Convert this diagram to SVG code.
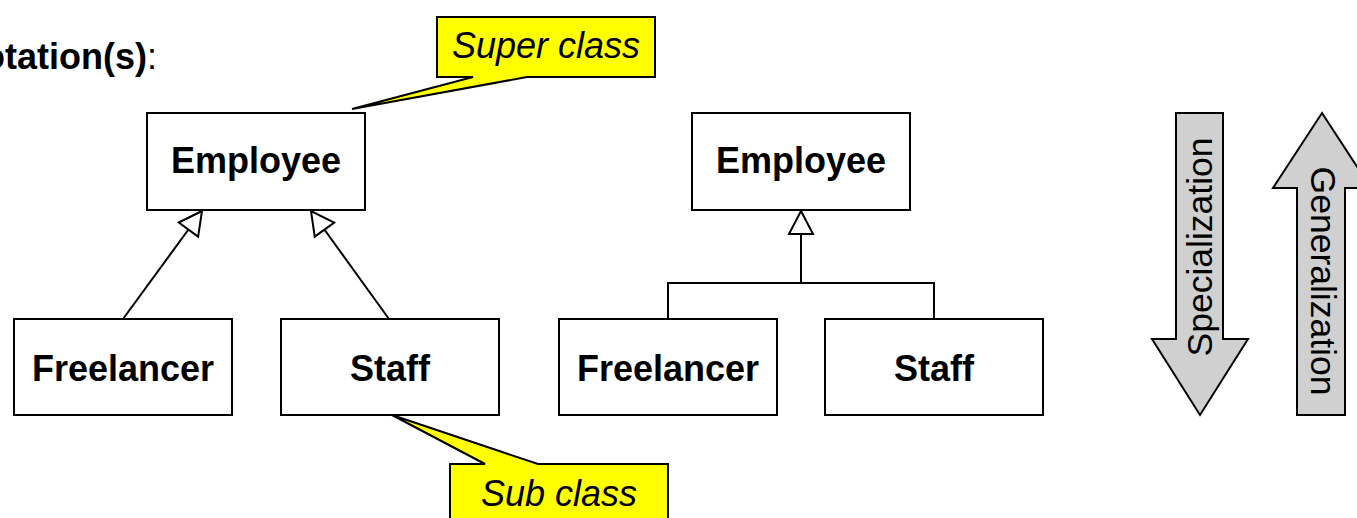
<svg xmlns="http://www.w3.org/2000/svg" width="1357" height="518" viewBox="0 0 1357 518">
<style>
.box{fill:#fff;stroke:#000;stroke-width:2}
.lbl{font-family:"Liberation Sans",Arial,sans-serif;font-weight:bold;font-size:36px;text-anchor:middle;fill:#000}
.note{fill:#ffff00;stroke:#000;stroke-width:2;stroke-linejoin:miter}
.ntxt{font-family:"Liberation Sans",Arial,sans-serif;font-style:italic;font-size:36px;text-anchor:middle;fill:#000}
.conn{fill:none;stroke:#000;stroke-width:2}
.big{fill:#d0d0d0;stroke:#000;stroke-width:2}
.btxt{font-family:"Liberation Sans",Arial,sans-serif;font-size:35.5px;text-anchor:middle;fill:#000}
</style>
<defs>
<marker id="gen" markerUnits="userSpaceOnUse" viewBox="-26 -14 28 28" markerWidth="28" markerHeight="28" refX="0" refY="0" orient="auto" overflow="visible">
<path d="M0,0 L-23,-12 L-23,12 Z" fill="#fff" stroke="#000" stroke-width="2"/>
</marker>
</defs>
<rect width="1357" height="518" fill="#fff"/>
<text x="-43" y="69" font-family="Liberation Sans,Arial,sans-serif" font-size="36px" fill="#000"><tspan font-weight="bold">Notation(s)</tspan>:</text>

<g id="connectors">
<path class="conn" d="M123,319 L202,211" marker-end="url(#gen)"/>
<path class="conn" d="M389,319 L311,211" marker-end="url(#gen)"/>
<path class="conn" d="M668,319 V283 H934 V319"/>
<path class="conn" d="M801,283 V211" marker-end="url(#gen)"/>
</g>

<g id="employee1"><rect class="box" x="147" y="113" width="218" height="97"/><text class="lbl" x="256" y="173">Employee</text></g>
<g id="freelancer1"><rect class="box" x="14" y="319" width="218" height="96"/><text class="lbl" x="123" y="381">Freelancer</text></g>
<g id="staff1"><rect class="box" x="281" y="319" width="218" height="96"/><text class="lbl" x="390" y="381">Staff</text></g>

<g id="employee2"><rect class="box" x="692" y="113" width="218" height="97"/><text class="lbl" x="801" y="173">Employee</text></g>
<g id="freelancer2"><rect class="box" x="559" y="319" width="218" height="96"/><text class="lbl" x="668" y="381">Freelancer</text></g>
<g id="staff2"><rect class="box" x="825" y="319" width="218" height="96"/><text class="lbl" x="934" y="381">Staff</text></g>

<g id="superclass-note"><path class="note" d="M437,17 H655 V77 H527 L352,109 L473,77 H437 Z"/><text class="ntxt" x="546" y="58">Super class</text></g>
<g id="subclass-note"><path class="note" d="M450,464 H485 L392,415 L538,464 H668 V530 H450 Z"/><text class="ntxt" x="559" y="506">Sub class</text></g>

<g id="specialization"><path class="big" d="M1176,113 H1223 V339 H1248 L1200,415 L1152,339 H1176 Z"/><text class="btxt" transform="translate(1212,247) rotate(-90)">Specialization</text></g>
<g id="generalization"><path class="big" d="M1322,113 L1371,188 H1345 V415 H1297 V188 H1273 Z"/><text class="btxt" transform="translate(1311,281) rotate(90)">Generalization</text></g>
</svg>
